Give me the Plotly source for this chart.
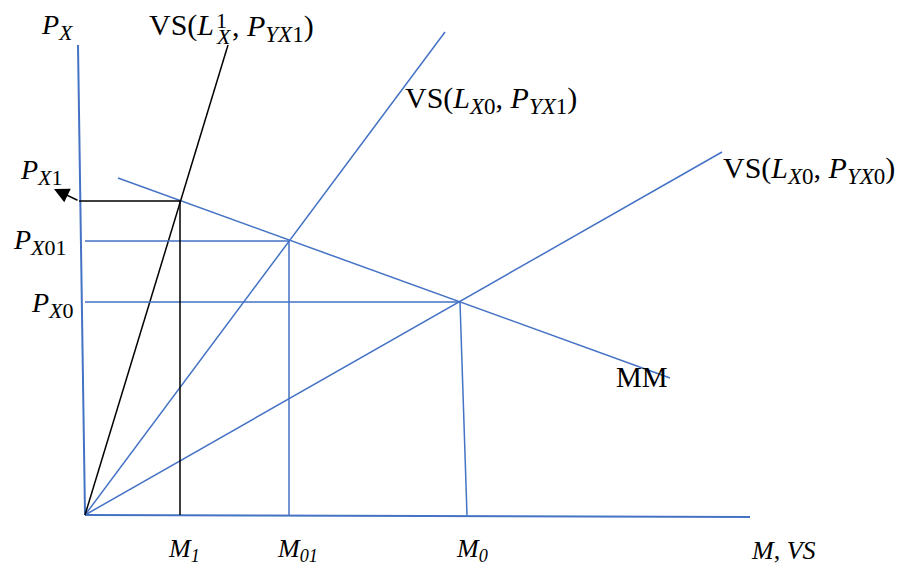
import plotly.graph_objects as go

# Economic coordinates (origin at the corner of the axes)
axis_v = {"x": [-7, 0], "y": [470, 0]}
axis_h = {"x": [0, 665], "y": [0, -2]}
mm_line = {"x": [33, 585], "y": [337, 137]}
vs_l0_py0 = {"x": [0, 637], "y": [0, 363]}
vs_l0_py1 = {"x": [0, 360], "y": [0, 483]}
vs_l1_py1 = {"x": [0, 143], "y": [0, 470]}

# equilibrium points (M, P_X)
m_vals = [95, 204, 375]
p_vals = [314, 274, 213]
m0_bottom = 382

BLUE = "#4472C4"
FONT = "Liberation Serif"

fig = go.Figure()

def seg(d, color, w=1.5):
    fig.add_trace(go.Scatter(x=d["x"], y=d["y"], mode="lines",
                             line=dict(color=color, width=w),
                             hoverinfo="skip", showlegend=False))

seg(axis_v, BLUE, 2)
seg(axis_h, BLUE, 2)
seg(mm_line, BLUE)
seg(vs_l0_py0, BLUE)
seg(vs_l0_py1, BLUE)
seg(vs_l1_py1, "black")

seg({"x": [0, m_vals[1], m_vals[1]], "y": [p_vals[1], p_vals[1], 0]}, BLUE)
seg({"x": [0, m_vals[2], m0_bottom], "y": [p_vals[2], p_vals[2], 0]}, BLUE)
seg({"x": [-6, m_vals[0], m_vals[0]], "y": [p_vals[0], p_vals[0], 0]}, "black")

fig.add_annotation(x=-31, y=326, ax=-6, ay=p_vals[0], xref="x", yref="y",
                   axref="x", ayref="y", text="", showarrow=True,
                   arrowhead=2, arrowsize=2, arrowwidth=1.5, arrowcolor="black")

def sub(t, s=23):
    return "<sub><span style='font-size:%dpx'>%s</span></sub>" % (s, t)

def label(x, y, text, size=30, anchor="left"):
    fig.add_annotation(x=x, y=y, text=text, showarrow=False, xanchor=anchor,
                       yanchor="middle", font=dict(family=FONT, size=size, color="black"))

label(-46, 488, "<i>P</i>" + sub("<i>X</i>", 22), size=28)
# VS(L^1_X, P_YX1) with stacked super/subscript
label(131, 490, "VS(<i>L</i>", anchor="right")
label(129, 495, "1", size=22)
label(129, 479, "<i>X</i>", size=22)
label(145, 487, ", <i>P</i>" + sub("<i>YX</i>1") + ")")
label(318, 415, "VS(<i>L</i>" + sub("<i>X</i>0") + ", <i>P</i>" + sub("<i>YX</i>1") + ")")
label(636, 345, "VS(<i>L</i>" + sub("<i>X</i>0") + ", <i>P</i>" + sub("<i>YX</i>0") + ")")
label(-67, 343, "<i>P</i>" + sub("<i>X</i>1", 22), size=28)
label(-74, 273, "<i>P</i>" + sub("<i>X</i>01", 22), size=28)
label(-56, 210, "<i>P</i>" + sub("<i>X</i>0", 22), size=28)
label(529, 138, "MM", size=29)
label(m_vals[0] + 4, -35, "<i>M<sub>1</sub></i>", size=26, anchor="center")
label(m_vals[1] + 8, -35, "<i>M<sub>01</sub></i>", size=26, anchor="center")
label(m_vals[2] + 12, -35, "<i>M<sub>0</sub></i>", size=26, anchor="center")
label(664, -35, "<i>M</i>, <i>VS</i>", size=26)

fig.update_xaxes(range=[-77, 838], visible=False, showgrid=False, zeroline=False)
fig.update_yaxes(range=[-68, 507], visible=False, showgrid=False, zeroline=False)
fig.update_layout(width=915, height=575, margin=dict(l=0, r=0, t=0, b=0),
                  plot_bgcolor="white", paper_bgcolor="white")

fig.write_html("out.html")
